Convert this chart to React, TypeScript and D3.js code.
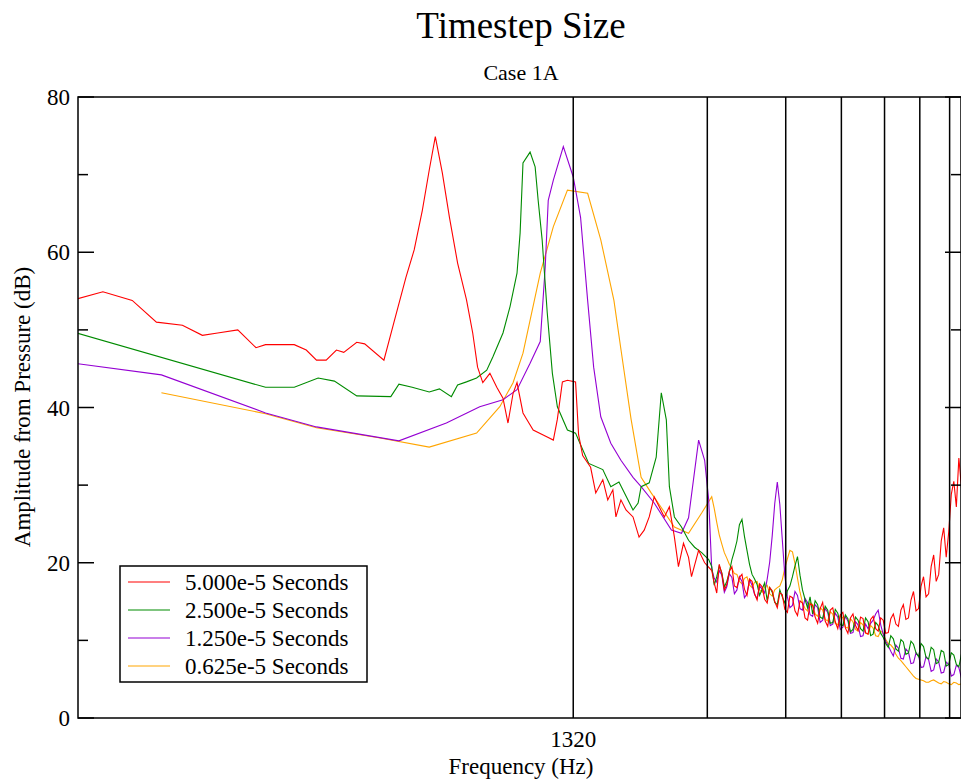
import React from "react";
import * as d3 from "d3";

// ---- data (frequency Hz, amplitude dB) ----
const seriesNames = [
  "5.000e-5 Seconds",
  "2.500e-5 Seconds",
  "1.250e-5 Seconds",
  "0.625e-5 Seconds",
];

const redLow: [number, number][] = [
  [100, 53.9], [116, 54.9], [135, 53.8], [153, 51.0], [175, 50.6], [194, 49.3], [210, 49.6],
  [233, 50.0], [256, 47.7], [269, 48.1], [312, 48.1], [332, 47.4], [350, 46.1], [368, 46.1],
  [388, 47.4], [403, 47.1], [431, 48.4], [449, 48.2], [496, 46.1], [522, 50.9], [556, 56.8],
  [580, 60.3], [605, 65.4], [627, 70.6], [647, 74.9], [671, 70.2], [696, 64.5], [726, 58.6],
  [760, 53.9], [785, 49.6], [805, 45.2], [827, 43.2], [858, 44.4], [889, 42.6], [918, 41.2],
  [942, 38.0], [967, 41.8], [987, 43.2], [1018, 39.3], [1040, 38.4], [1073, 37.1], [1154, 36.2],
  [1191, 35.8], [1216, 38.5], [1248, 43.3], [1281, 43.5], [1336, 43.3], [1357, 36.5], [1386, 33.8],
  [1444, 32.3], [1483, 29.0], [1538, 30.7], [1578, 28.1], [1620, 29.4], [1646, 25.9], [1689, 28.1],
  [1734, 26.8], [1798, 25.9], [1855, 23.3], [1905, 24.2], [1955, 25.9], [2006, 28.5], [2059, 27.2],
  [2114, 25.9], [2170, 27.2], [2227, 23.3], [2274, 19.5], [2334, 22.5], [2396, 20.7], [2433, 18.2],
  [2524, 21.6], [2604, 20.0],
];

const greenLow: [number, number][] = [
  [100, 49.7], [269, 42.6], [312, 42.6], [353, 43.8], [384, 43.4], [431, 41.5], [514, 41.4],
  [536, 43.0], [574, 42.6], [627, 42.0], [661, 42.4], [703, 41.4], [726, 42.9], [760, 43.3],
  [801, 43.8], [844, 44.8], [871, 46.5], [918, 49.6], [952, 53.0], [987, 57.3], [1003, 62.5],
  [1018, 71.5], [1056, 72.9], [1084, 71.0], [1101, 66.7], [1124, 61.6], [1154, 52.2], [1185, 44.4],
  [1216, 40.1], [1281, 37.1], [1336, 36.7], [1371, 35.2], [1430, 32.8], [1538, 32.0], [1603, 29.8],
  [1672, 30.4], [1798, 26.8], [1846, 27.7], [1875, 29.8], [1955, 30.3], [2027, 33.6], [2081, 41.9],
  [2136, 38.4], [2170, 29.8], [2227, 25.9], [2310, 24.6], [2396, 22.9], [2472, 22.0], [2564, 21.3],
  [2659, 20.4],
];

const purpleLow: [number, number][] = [
  [100, 45.7], [157, 44.2], [269, 39.3], [350, 37.5], [536, 35.7], [685, 38.0], [814, 40.1],
  [918, 41.0], [987, 42.3], [1056, 45.7], [1113, 48.5], [1142, 58.1], [1160, 66.7], [1191, 69.3],
  [1254, 73.6], [1320, 69.7], [1371, 64.5], [1422, 53.8], [1467, 45.2], [1522, 38.8], [1603, 35.4],
  [1689, 33.2], [1798, 31.0], [1875, 29.8], [2006, 27.7], [2193, 24.2], [2310, 23.8], [2396, 25.8],
  [2524, 35.8], [2604, 33.2], [2659, 28.1],
];

const orangeLow: [number, number][] = [
  [157, 41.9], [269, 39.2], [350, 37.4], [483, 36.1], [627, 34.9], [801, 36.7], [903, 40.1],
  [967, 43.2], [1018, 47.0], [1113, 57.3], [1191, 63.3], [1281, 68.0], [1422, 67.6], [1522, 61.6],
  [1629, 53.8], [1689, 47.5], [1780, 38.5], [1875, 31.0], [1975, 29.0], [2048, 27.7], [2227, 24.6],
  [2396, 23.8], [2564, 26.4],
];

// shared high-frequency bins
const noiseFreqs = [
  2701, 2736, 2772, 2808, 2846, 2883, 2920, 2958, 2998, 3037, 3077, 3117, 3158, 3199, 3241, 3284,
  3327, 3371, 3415, 3460, 3505, 3551, 3598, 3645, 3693, 3741, 3791, 3841, 3890, 3941, 3994, 4046,
  4100, 4154, 4208, 4263, 4318, 4375, 4433, 4491, 4550, 4610, 4670, 4731, 4793, 4856, 4920, 4985,
  5050, 5116, 5183, 5251, 5320, 5390, 5461, 5533, 5606, 5680, 5754, 5830, 5905, 5983, 6062, 6142,
  6222, 6304, 6387, 6471, 6554, 6640, 6729, 6817, 6907, 6998, 7090, 7183, 7274, 7370, 7468, 7566,
  7666, 7767, 7869, 7972, 8074, 8180, 8290, 8399, 8509, 8621, 8733, 8848, 8961, 9079, 9199, 9320,
  9443, 9567, 9692, 9819, 9948,
];

const redNoise = [
  19.0, 17.4, 16.1, 19.8, 18.6, 16.5, 17.2, 18.9, 19.5, 17.0,
  16.8, 18.1, 18.5, 16.6, 15.8, 17.9, 17.6, 16.0, 15.2, 17.3,
  16.9, 15.3, 14.8, 16.8, 16.4, 15.0, 14.2, 16.1, 15.9, 14.0,
  13.6, 15.7, 15.5, 13.8, 13.2, 15.1, 14.8, 12.9, 12.6, 14.7,
  14.5, 13.0, 12.2, 14.1, 14.9, 12.5, 11.8, 13.9, 14.2, 12.4,
  11.5, 13.3, 13.6, 11.6, 10.9, 12.9, 13.4, 11.9, 11.3, 13.0,
  12.8, 11.0, 10.8, 12.7, 13.1, 11.5, 11.2, 12.9, 12.6, 10.9,
  11.0, 12.8, 13.4, 12.1, 11.8, 13.9, 14.6, 12.7, 12.9, 15.2,
  16.3, 13.8, 14.1, 17.0, 18.2, 15.6, 16.0, 19.5, 21.0, 17.6,
  18.5, 22.8, 24.5, 20.7, 24.0, 28.8, 30.5, 27.2, 33.5, 29.8, 30.5,
];
const greenNoise = [
  19.5, 17.1, 18.2, 19.6, 18.7, 16.9, 17.6, 18.8, 20.4, 21.5,
  22.8, 24.9, 25.6, 23.4, 21.6, 19.8, 18.5, 17.9, 17.2, 15.8,
  16.6, 17.4, 15.1, 16.8, 16.2, 14.9, 14.6, 16.5, 15.6, 14.8,
  16.4, 17.0, 18.2, 19.6, 20.8, 18.4, 16.5, 15.3, 14.2, 15.6,
  13.4, 15.1, 14.6, 13.0, 12.8, 14.4, 13.9, 12.2, 12.3, 14.0,
  13.5, 12.0, 11.9, 13.3, 12.8, 11.1, 11.4, 13.0, 12.6, 11.5,
  11.2, 12.9, 12.4, 10.6, 10.8, 12.3, 11.9, 10.9, 10.4, 9.6,
  9.1, 10.6, 10.2, 8.9, 8.6, 10.1, 9.8, 8.2, 8.4, 9.9,
  9.5, 8.4, 7.9, 9.6, 9.2, 7.8, 7.6, 9.1, 8.8, 7.0,
  7.2, 8.7, 8.5, 6.7, 6.9, 8.4, 8.1, 6.9, 6.6, 8.2, 7.8,
];
const purpleNoise = [
  19.2, 18.0, 17.5, 19.0, 18.4, 16.2, 16.9, 18.6, 18.1, 16.0,
  16.5, 18.2, 17.6, 15.5, 16.0, 17.8, 17.1, 15.9, 15.4, 17.0,
  16.6, 16.1, 17.9, 20.1, 23.5, 27.6, 30.4, 27.5, 23.0, 18.4,
  15.6, 14.2, 14.5, 16.3, 15.8, 14.1, 13.9, 15.4, 14.9, 13.3,
  13.1, 14.6, 14.2, 12.3, 12.6, 14.1, 13.6, 11.9, 12.1, 13.5,
  13.0, 11.4, 11.7, 13.1, 12.5, 10.9, 11.0, 12.4, 12.0, 10.5,
  10.6, 12.1, 11.5, 12.2, 12.6, 13.4, 13.9, 12.0, 10.8, 9.9,
  9.3, 8.6, 8.0, 9.4, 9.0, 7.7, 7.6, 8.9, 8.5, 7.0,
  7.1, 8.4, 8.0, 6.5, 6.6, 7.9, 7.5, 6.0, 6.2, 7.6,
  7.2, 5.8, 5.9, 7.2, 6.9, 5.4, 5.6, 6.8, 6.5, 5.2, 5.5,
];
const orangeNoise = [
  28.5, 27.0, 25.2, 23.6, 22.4, 21.3, 20.6, 19.8, 19.3, 18.6,
  18.5, 17.6, 17.3, 18.0, 18.2, 17.1, 16.8, 17.5, 17.6, 16.5,
  16.2, 16.9, 17.1, 16.0, 15.7, 16.5, 16.8, 17.0, 17.8, 19.3,
  20.5, 21.6, 21.4, 19.9, 18.0, 16.2, 14.9, 14.1, 13.8, 14.9,
  14.6, 13.4, 13.1, 14.2, 13.9, 12.7, 12.5, 13.7, 13.4, 12.2,
  12.0, 13.2, 12.9, 11.7, 11.6, 12.8, 12.4, 11.4, 11.2, 12.3,
  12.0, 10.9, 10.8, 11.9, 11.6, 10.6, 10.5, 11.2, 10.9, 10.1,
  9.6, 9.4, 9.0, 8.2, 7.7, 7.4, 7.0, 6.6, 6.2, 5.8,
  5.4, 5.1, 5.0, 4.9, 4.8, 4.6, 4.6, 4.8, 4.9, 4.7,
  4.5, 4.4, 4.7, 4.6, 4.4, 4.3, 4.6, 4.5, 4.3, 4.4, 4.5,
];

const harmonics = [1320, 2640, 3960, 5280, 6600, 7920, 9240];
const xTickLabels = [1320];
const yMajor = [0, 20, 40, 60, 80];
const yMinor = [10, 30, 50, 70];

const colors = ["#ff0000", "#008b00", "#9400d3", "#ffa500"];

const join = (low: [number, number][], noise: number[]): [number, number][] =>
  low.concat(noiseFreqs.map((f, i) => [f, noise[i]] as [number, number]));

const series = [
  join(redLow, redNoise),
  join(greenLow, greenNoise),
  join(purpleLow, purpleNoise),
  join(orangeLow, orangeNoise),
];

const W = 961;
const H = 780;
const left = 78;
const right = 961;
const top = 97;
const bottom = 718;
const font = "'Liberation Serif', 'Times New Roman', serif";

export default function App() {
  const x = d3.scaleLog().domain([102, 9800]).range([left, right]);
  const y = d3.scaleLinear().domain([0, 80]).range([bottom, top]);
  const line = d3
    .line<[number, number]>()
    .x((d) => x(d[0]))
    .y((d) => y(d[1]));

  // draw red last so it sits on top
  const order = [3, 2, 1, 0];

  return (
    <svg
      width={W}
      height={H}
      style={{ position: "absolute", left: 0, top: 0, background: "#fff" }}
      fontFamily={font}
    >
      <defs>
        <clipPath id="plot">
          <rect x={left} y={top} width={right - left} height={bottom - top} />
        </clipPath>
      </defs>

      <text x={521} y={38} fontSize={37} textAnchor="middle">
        Timestep Size
      </text>
      <text x={521} y={80} fontSize={22} textAnchor="middle">
        Case 1A
      </text>

      <g clipPath="url(#plot)">
        {order.map((i) => (
          <path key={i} d={line(series[i]) || ""} fill="none" stroke={colors[i]} strokeWidth={1.1} />
        ))}
      </g>

      {harmonics.map((h) => (
        <line key={h} x1={x(h)} x2={x(h)} y1={top} y2={bottom} stroke="#000" strokeWidth={1.5} />
      ))}

      <rect
        x={left}
        y={top}
        width={right - left}
        height={bottom - top}
        fill="none"
        stroke="#000"
        strokeWidth={1.5}
      />

      {yMajor.map((v) => (
        <g key={"M" + v}>
          <line x1={left} x2={left + 16} y1={y(v)} y2={y(v)} stroke="#000" strokeWidth={1.5} />
          <line x1={right - 16} x2={right} y1={y(v)} y2={y(v)} stroke="#000" strokeWidth={1.5} />
          <text x={70} y={y(v) + 8} fontSize={23} textAnchor="end">
            {v}
          </text>
        </g>
      ))}
      {yMinor.map((v) => (
        <g key={"m" + v}>
          <line x1={left} x2={left + 10} y1={y(v)} y2={y(v)} stroke="#000" strokeWidth={1.5} />
          <line x1={right - 10} x2={right} y1={y(v)} y2={y(v)} stroke="#000" strokeWidth={1.5} />
        </g>
      ))}

      {xTickLabels.map((t) => (
        <text key={t} x={x(t)} y={747} fontSize={23} textAnchor="middle">
          {t}
        </text>
      ))}

      <text x={521} y={774} fontSize={23} textAnchor="middle">
        Frequency (Hz)
      </text>
      <text transform={`translate(30, 407) rotate(-90)`} fontSize={23} textAnchor="middle">
        Amplitude from Pressure (dB)
      </text>

      <g>
        <rect x={120} y={566} width={247} height={116} fill="#fff" stroke="#000" strokeWidth={1.5} />
        {seriesNames.map((name, i) => (
          <g key={name}>
            <line
              x1={128}
              x2={170}
              y1={582 + 28 * i}
              y2={582 + 28 * i}
              stroke={colors[i]}
              strokeWidth={1.1}
            />
            <text x={185} y={590 + 28 * i} fontSize={23}>
              {name}
            </text>
          </g>
        ))}
      </g>
    </svg>
  );
}
